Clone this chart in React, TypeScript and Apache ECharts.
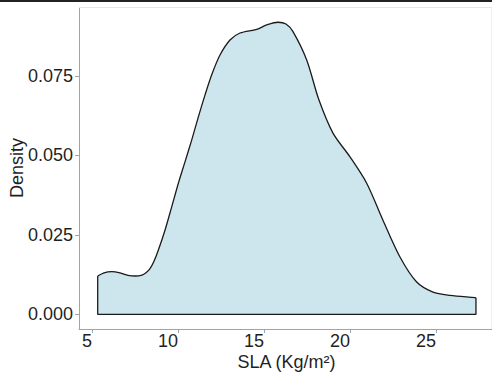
import React, { useEffect, useRef } from "react";
import * as echarts from "echarts";

const slaValues = [
  5.337, 5.703, 6.15, 6.632, 7.097, 7.504, 7.911, 8.143, 8.376, 8.608, 8.858,
  9.247, 9.636, 10.02, 10.409, 10.798, 11.165, 11.571, 11.978, 12.443, 13.024,
  13.605, 14.576, 15.157, 15.813, 16.278, 16.685, 17.481, 18.196, 19.009,
  19.997, 20.967, 21.914, 22.902, 23.872, 24.819, 25.807, 27.26, 27.318,
];
const densityValues = [
  0.01206, 0.01306, 0.01344, 0.01306, 0.01228, 0.01206, 0.01235, 0.0131,
  0.01438, 0.01668, 0.02014, 0.02644, 0.03377, 0.04114, 0.04794, 0.05477,
  0.06169, 0.06893, 0.07554, 0.08152, 0.08625, 0.08845, 0.08961, 0.09097,
  0.09182, 0.09128, 0.08886, 0.07995, 0.06736, 0.05697, 0.04951, 0.04123,
  0.02959, 0.01804, 0.01017, 0.00702, 0.00598, 0.00526, 0.0052,
];
const xTicks = [5, 10, 15, 20, 25];
const yTicks = [0, 0.025, 0.05, 0.075];
const xTitle = "SLA (Kg/m²)";
const yTitle = "Density";

const FONT = "'Liberation Sans', Arial, sans-serif";
const AXIS_GREY = "#a3a3a3";
const TEXT = "#1f1f1f";

export default function App() {
  const ref = useRef<HTMLDivElement>(null);
  useEffect(() => {
    const chart = echarts.init(ref.current!, null, { renderer: "svg" });
    const curve = slaValues.map((x, i) => [x, densityValues[i]]);
    const first = curve[0];
    const last = curve[curve.length - 1];
    const edges = [
      [first[0], first[1]],
      [first[0], 0],
      [last[0], 0],
      [last[0], last[1]],
    ];
    chart.setOption({
      animation: false,
      backgroundColor: "#ffffff",
      grid: {
        left: 79,
        right: 0,
        top: 7.7,
        bottom: 52,
        containLabel: false,
        outerBoundsMode: "none",
      },
      xAxis: {
        type: "value",
        min: 4.25,
        max: 28.25,
        splitLine: { show: false },
        axisLine: { show: true, onZero: false, lineStyle: { color: AXIS_GREY, width: 1 } },
        axisTick: { show: true, length: 4, customValues: xTicks, lineStyle: { color: AXIS_GREY } },
        axisLabel: {
          customValues: xTicks,
          fontSize: 18,
          color: TEXT,
          fontFamily: FONT,
          margin: 3,
          align: "right",
        },
      },
      yAxis: {
        type: "value",
        min: -0.0046,
        max: 0.0964,
        splitLine: { show: false },
        axisLine: { show: true, onZero: false, lineStyle: { color: AXIS_GREY, width: 1 } },
        axisTick: { show: true, length: 4, customValues: yTicks, lineStyle: { color: AXIS_GREY } },
        axisLabel: {
          customValues: yTicks,
          fontSize: 18,
          color: TEXT,
          fontFamily: FONT,
          margin: 6,
          formatter: (v: number) => v.toFixed(3),
        },
      },
      graphic: [
        { type: "rect", shape: { x: 0, y: 0, width: 492, height: 2 }, style: { fill: "#222222" }, z: 100 },
        { type: "line", shape: { x1: 79, y1: 7.5, x2: 492, y2: 7.5 }, style: { stroke: "#e6e6e6", lineWidth: 1 }, z: 100 },
        { type: "line", shape: { x1: 491.5, y1: 7.5, x2: 491.5, y2: 329 }, style: { stroke: "#eeeeee", lineWidth: 1 }, z: 100 },
        {
          type: "text",
          x: 286.5,
          y: 362,
          style: { text: xTitle, fontSize: 18, fontFamily: FONT, fill: TEXT, align: "center", verticalAlign: "middle" },
          z: 100,
        },
        {
          type: "text",
          x: 17,
          y: 168,
          rotation: Math.PI / 2,
          style: { text: yTitle, fontSize: 18, fontFamily: FONT, fill: TEXT, align: "center", verticalAlign: "middle" },
          z: 100,
        },
      ],
      series: [
        {
          type: "line",
          data: curve,
          smooth: 0.3,
          symbol: "none",
          lineStyle: { color: "#1a1a1a", width: 1.3 },
          areaStyle: { color: "#cde6ee", opacity: 1 },
          z: 2,
        },
        {
          type: "line",
          data: edges,
          smooth: false,
          symbol: "none",
          lineStyle: { color: "#1a1a1a", width: 1.3 },
          z: 3,
        },
      ],
    });
    return () => chart.dispose();
  }, []);
  return (
    <div
      ref={ref}
      style={{ position: "fixed", left: 0, top: 0, width: 492, height: 381 }}
    />
  );
}
